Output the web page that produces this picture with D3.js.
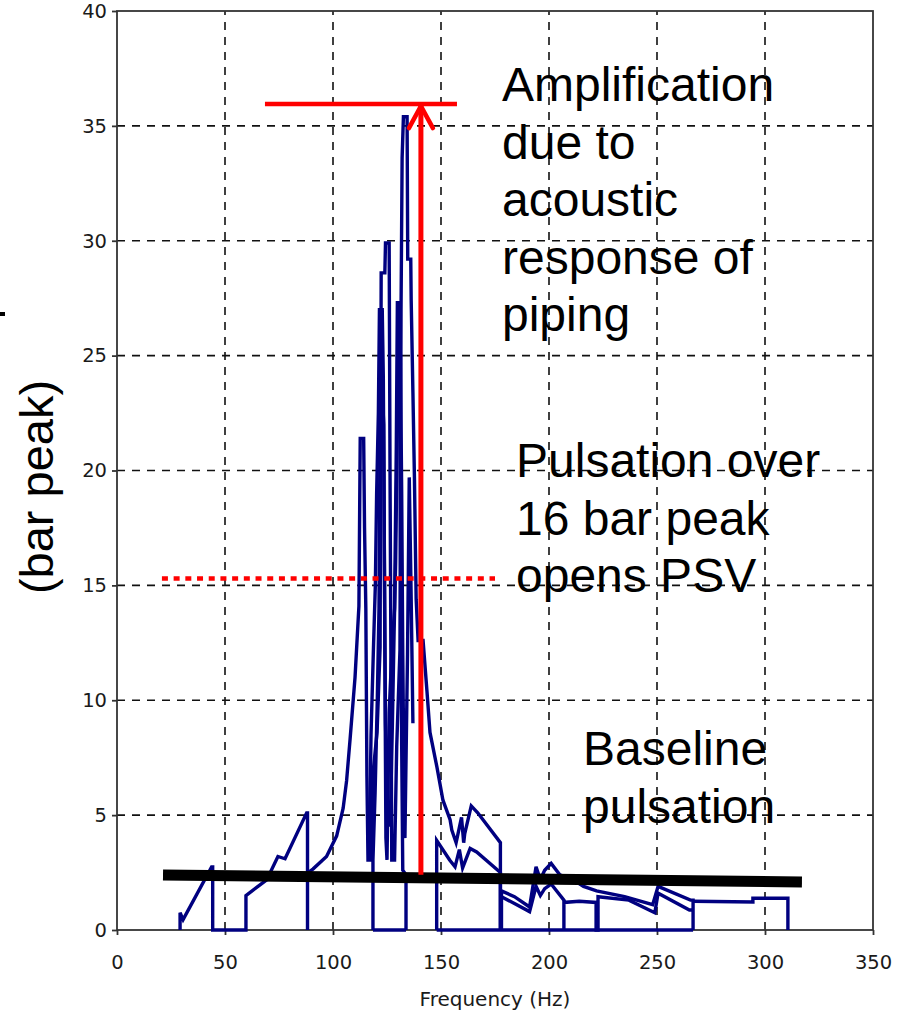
<!DOCTYPE html>
<html>
<head>
<meta charset="utf-8">
<script src="https://cdn.jsdelivr.net/npm/d3@7"></script>
<style>
  body { margin: 0; background: #fff; }
  svg { display: block; }
</style>
</head>
<body>
<div id="chart"></div>
<script>

// spectrum traces, [frequency Hz, pulsation bar peak]
const lowFreqTrace = [[29.2,0],[29.2,0.75],[30.6,0.45],[43.8,2.74],[44.3,2.74],[44.3,0],[59.7,0],[59.7,1.5],[69.3,2.18],[74.5,3.2],[77.8,3.1],[87.8,5.1],[88.2,5.1],[88.2,0]];

const mainTrace = [[88.4,2.5],[90.7,2.65],[97,3.2],[101.7,4.1],[104.7,5.3],[106.3,6.5],[107.9,8.3],[110.2,11.0],[112,14.1],
  [112.6,21.4],[114.2,21.4],[114.6,17.5],[115.2,14],[115.7,6.7],[116.2,3.05],[117.5,3.05],[118.5,6.8],[120.4,8.6],[121.8,12.3],
  [122.3,28.6],[124,28.6],[124.3,29.9],[126,29.9],[126.4,20],[126.8,12],[127.2,3.05],[128.5,3.05],[129.5,8],[131,12.2],
  [131.5,27],[132,33.6],[132.6,35.4],[134.3,35.4],[134.6,29.2],[136,29.2],[136.2,27.4],[137,23.4],[137.7,19.7],[138.5,14.4],
  [139.4,12.6],[141.7,12.6],[143.5,10.4],[144.9,8.6],[148.1,7.1],[150.9,5.65],[154.2,4.8],[155,4.35],[157,3.8],[159.5,4.9],
  [160.5,3.8],[161,4.2],[164,5.4],[167,5.1],[177.5,3.8],[177.5,0]];

const innerTrace = [[118.5,0],[118.5,3.05],[119.5,6],[120.5,10],[121.3,14],[121.8,22],[122.5,24],[123.5,22],[124,12],[124.5,4],
  [125,3.05],[126,9.5],[127.3,12.2],[128.5,14],[129.3,21],[129.8,27.3],[130.8,27.3],[131.2,18],[131.8,8],[132.3,2.6],
  [133.8,2.4],[133.8,0]];

const denseTrace = [[116.8,3.1],[117.6,8.5],[118.8,12.5],[119.6,15],[120.2,19],[121,22.5],[121.5,27],[122.8,27],[123.3,24],
  [123.8,16],[124.3,9],[125.2,5.5],[126.5,4.5],[127.5,9],[128.3,13],[129,16],[129.8,22],[130.6,26],[131.2,25],[131.8,19],
  [132.3,12],[132.8,7],[133.3,4],[134.5,12],[135.3,19.7],[136.2,14.4],[137,9]];

const decayTrace = [[148,0],[148,3.9],[154,3.05],[156.5,2.75],[158.5,3.5],[160,2.7],[163.5,3.55],[166.5,3.4],[177.5,2.5],[177.5,0]];

const upperTailTrace = [[178,0],[178,1.7],[184,1.45],[191,1.0],[194,2.75],[196,2.2],[198,2.6],[201,2.9],[205,2.4],[211,2.2],
  [216,1.9],[222,1.7],[235,1.45],[248,1.1],[250.5,1.9],[265.5,1.3],[266.7,1.3],[266.7,0]];

const lowerTailTrace = [[178,1.45],[184,1.15],[191,0.8],[194,1.9],[196,1.5],[198,1.8],[201,2.0],[206.9,1.3],[206.9,0],
  [206.9,1.2],[214,1.25],[221.8,1.2],[221.8,0],[222.7,0],[222.7,1.45],[237,1.3],[249,0.75],[250.5,1.6],[265,0.87],[266.7,0.87]];

const farTrace = [[266.7,1.25],[294.4,1.22],[294.4,1.38],[310.6,1.38],[310.6,0]];

const zeroSpans = [[[118.5,0],[133.8,0]],[[148,0],[266.7,0]]];

const traces = [lowFreqTrace, mainTrace, innerTrace, denseTrace, decayTrace, upperTailTrace, lowerTailTrace, farTrace].concat(zeroSpans);

// annotations
const baselineLine = [[21.3,2.39],[317.1,2.09]];
const psvLevel = 15.3;
const psvRange = [20.8, 175];
const peakLevel = 35.95;
const peakRange = [68.5, 157.4];
const arrowFreq = 140.7;
const arrowFrom = 2.4;

const xTicks = [0,50,100,150,200,250,300,350];
const yTicks = [0,5,10,15,20,25,30,35,40];

const amplificationLines = ["Amplification","due to","acoustic","response of","piping"];
const psvLines = ["Pulsation over","16 bar peak","opens PSV"];
const baselineLines = ["Baseline","pulsation"];

const width = 901, height = 1013;
const margin = {top: 11, right: 28, bottom: 83, left: 117};

const svg = d3.select("#chart").append("svg")
    .attr("width", width)
    .attr("height", height);

const x = d3.scaleLinear().domain([0, 350]).range([margin.left, width - margin.right]);
const y = d3.scaleLinear().domain([0, 40]).range([height - margin.bottom, margin.top]);

// grid
svg.append("g")
    .selectAll("line")
    .data(xTicks.slice(1, -1))
    .join("line")
    .attr("x1", d => x(d)).attr("x2", d => x(d))
    .attr("y1", y(0)).attr("y2", y(40))
    .attr("stroke", "#111")
    .attr("stroke-width", 1.6)
    .attr("stroke-dasharray", "8,7");

svg.append("g")
    .selectAll("line")
    .data(yTicks.slice(1, -1))
    .join("line")
    .attr("x1", x(0)).attr("x2", x(350))
    .attr("y1", d => y(d)).attr("y2", d => y(d))
    .attr("stroke", "#111")
    .attr("stroke-width", 1.6)
    .attr("stroke-dasharray", "8,7");

// frame
svg.append("rect")
    .attr("x", x(0)).attr("y", y(40))
    .attr("width", x(350) - x(0)).attr("height", y(0) - y(40))
    .attr("fill", "none")
    .attr("stroke", "#333")
    .attr("stroke-width", 1.8);

// axes
const xAxis = svg.append("g")
    .attr("transform", `translate(0,${y(0)})`)
    .call(d3.axisBottom(x).tickValues(xTicks).tickSize(5).tickSizeOuter(0).tickPadding(20));

const yAxis = svg.append("g")
    .attr("transform", `translate(${x(0)},0)`)
    .call(d3.axisLeft(y).tickValues(yTicks).tickSize(5).tickSizeOuter(0).tickPadding(5));

[xAxis, yAxis].forEach(g => {
    g.select(".domain").remove();
    g.selectAll(".tick line").attr("stroke", "#333").attr("stroke-width", 1.8);
    g.selectAll(".tick text")
        .attr("fill", "#1a1a1a")
        .style("font-family", "'DejaVu Sans', sans-serif")
        .style("font-size", "19.5px");
});

svg.append("text")
    .attr("x", (x(0) + x(350)) / 2)
    .attr("y", 1006)
    .attr("text-anchor", "middle")
    .style("font-family", "'DejaVu Sans', sans-serif")
    .style("font-size", "20px")
    .attr("fill", "#1a1a1a")
    .text("Frequency (Hz)");

svg.append("text")
    .attr("transform", "translate(53,487) rotate(-90)")
    .attr("text-anchor", "middle")
    .style("font-family", "'Liberation Sans', Arial, sans-serif")
    .style("font-size", "47px")
    .attr("fill", "#000")
    .text("(bar peak)");

// stray fragment of a cropped label on the left edge
svg.append("rect")
    .attr("x", 0).attr("y", 312)
    .attr("width", 5).attr("height", 4)
    .attr("fill", "#000");

// spectrum
const line = d3.line().x(d => x(d[0])).y(d => y(d[1]));

svg.append("g")
    .selectAll("path")
    .data(traces)
    .join("path")
    .attr("d", line)
    .attr("fill", "none")
    .attr("stroke", "#000080")
    .attr("stroke-width", 3.4)
    .attr("stroke-linejoin", "miter");

// baseline pulsation
svg.append("path")
    .attr("d", line(baselineLine))
    .attr("stroke", "#000")
    .attr("stroke-width", 11)
    .attr("fill", "none");

// PSV level
svg.append("line")
    .attr("x1", x(psvRange[0])).attr("x2", x(psvRange[1]))
    .attr("y1", y(psvLevel)).attr("y2", y(psvLevel))
    .attr("stroke", "#ff0000")
    .attr("stroke-width", 4.5)
    .attr("stroke-dasharray", "6,5.7");

// amplification
svg.append("line")
    .attr("x1", x(peakRange[0])).attr("x2", x(peakRange[1]))
    .attr("y1", y(peakLevel)).attr("y2", y(peakLevel))
    .attr("stroke", "#ff0000")
    .attr("stroke-width", 4.5);

svg.append("line")
    .attr("x1", x(arrowFreq)).attr("x2", x(arrowFreq))
    .attr("y1", y(arrowFrom)).attr("y2", y(peakLevel))
    .attr("stroke", "#ff0000")
    .attr("stroke-width", 5);

const ax = x(arrowFreq), ay = y(peakLevel) + 2;
svg.append("path")
    .attr("d", `M${ax - 12},${ay + 22}L${ax},${ay}L${ax + 12},${ay + 22}`)
    .attr("fill", "none")
    .attr("stroke", "#ff0000")
    .attr("stroke-width", 4.5)
    .attr("stroke-linecap", "round")
    .attr("stroke-linejoin", "round");

// text blocks
function textBlock(lines, left, firstBaseline) {
    svg.append("g")
        .selectAll("text")
        .data(lines)
        .join("text")
        .attr("x", left)
        .attr("y", (d, i) => firstBaseline + i * 57.5)
        .style("font-family", "'Liberation Sans', Arial, sans-serif")
        .style("font-size", "48px")
        .attr("fill", "#000")
        .text(d => d);
}

textBlock(amplificationLines, 502, 101);
textBlock(psvLines, 516, 477);
textBlock(baselineLines, 583, 765);

</script>
</body>
</html>
